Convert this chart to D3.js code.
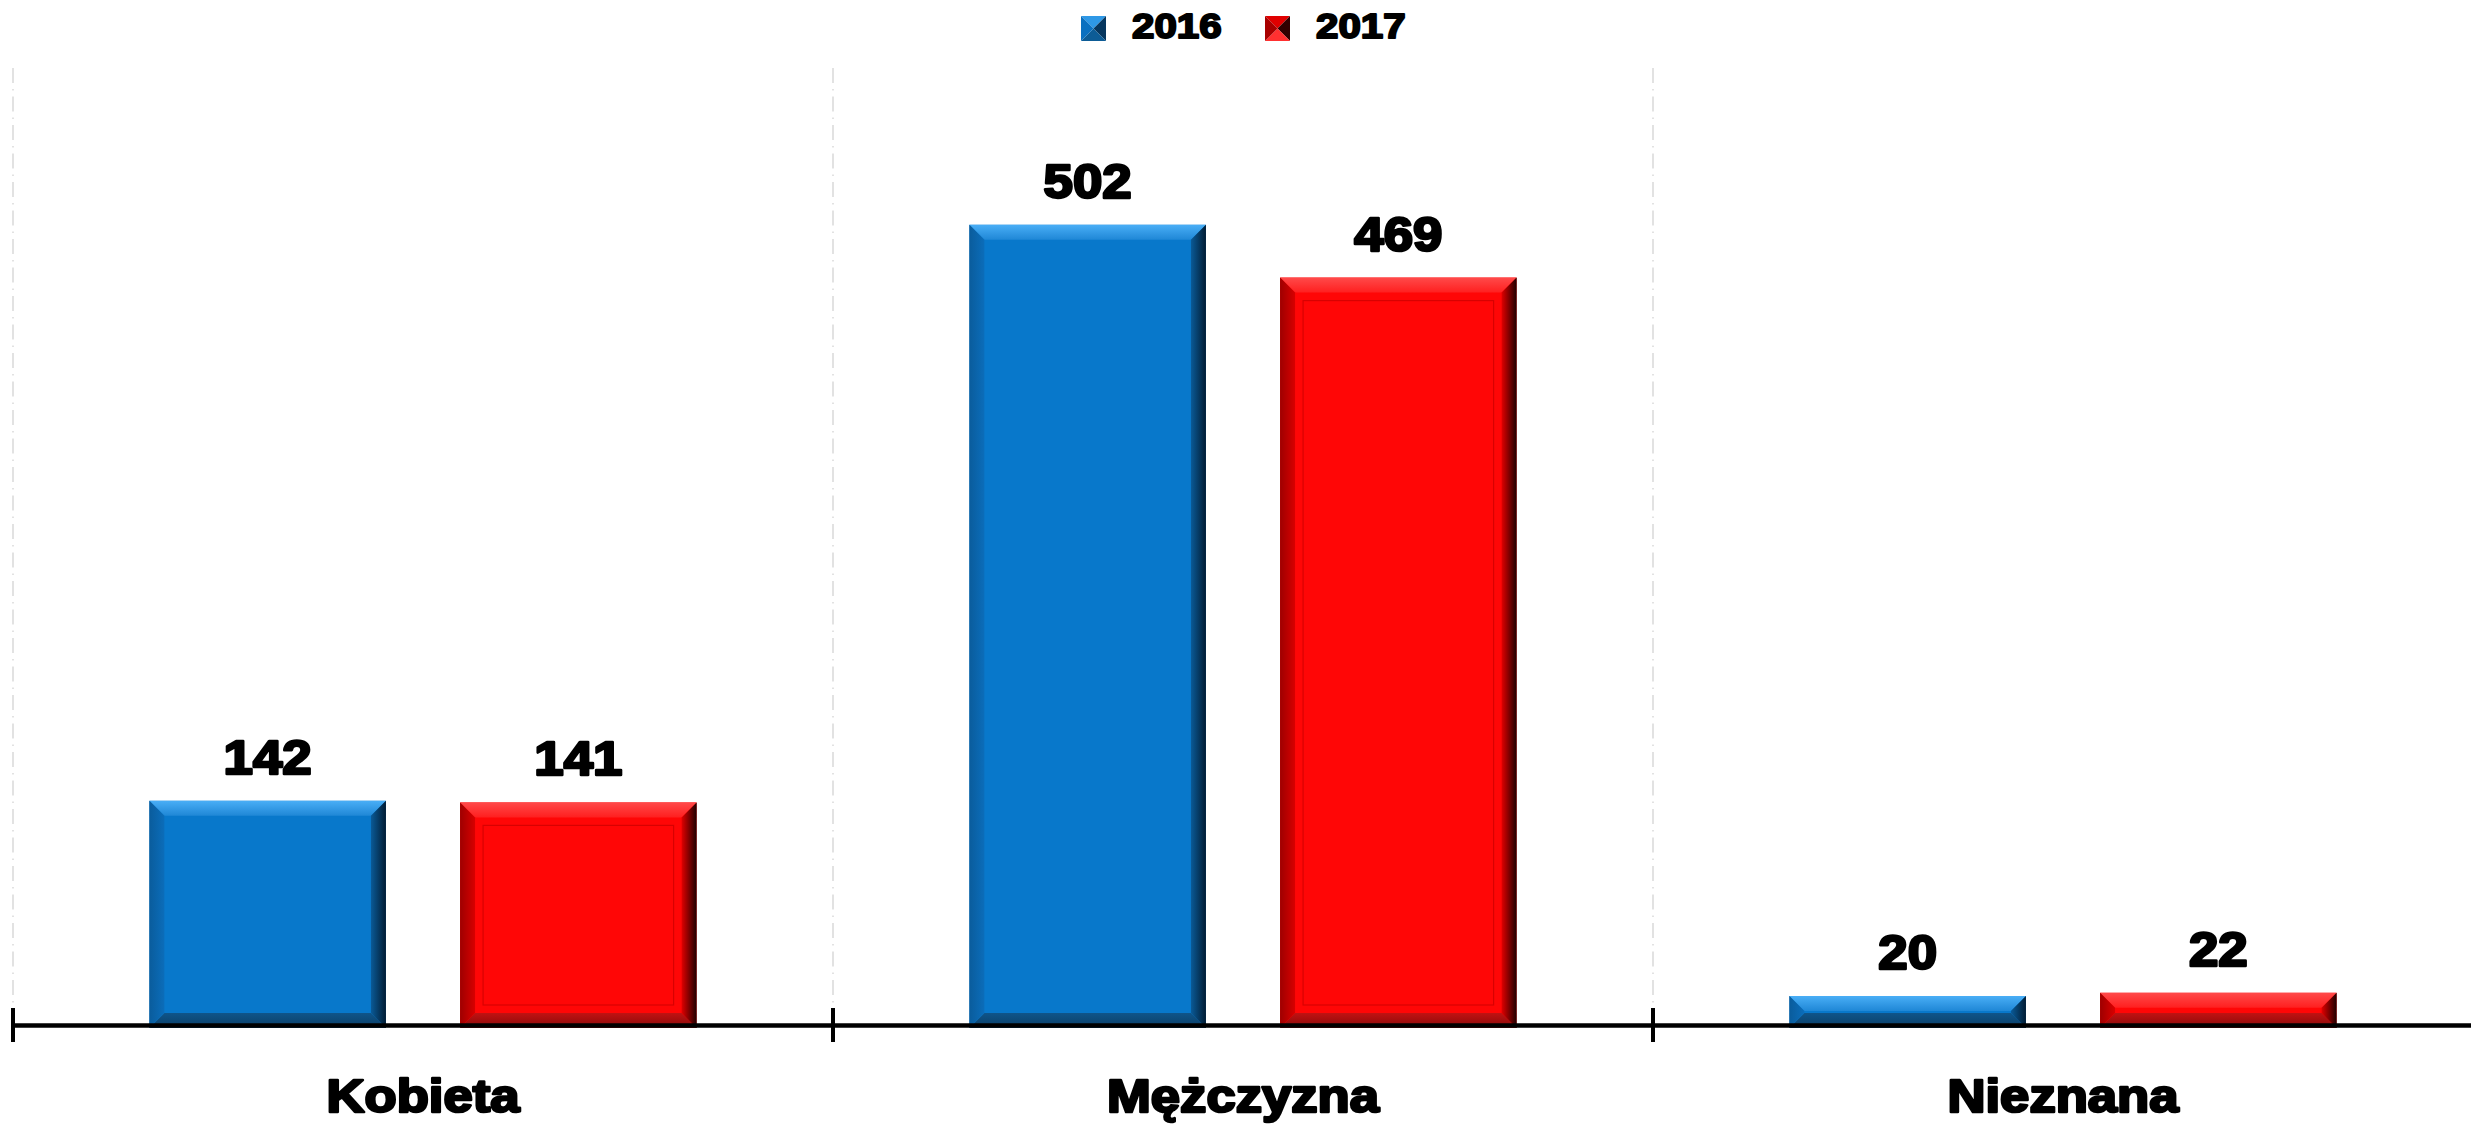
<!DOCTYPE html>
<html>
<head>
<meta charset="utf-8">
<script src="https://cdn.jsdelivr.net/npm/d3@7"></script>
<style>
  html, body { margin: 0; padding: 0; background: #fff; }
  svg { display: block; }
  .heavy { font-family: "Liberation Sans", Arial, sans-serif; font-weight: 700; fill: #000; stroke: #000; paint-order: stroke; stroke-linejoin: round; }
</style>
</head>
<body>
<svg id="chart" width="2471" height="1124"></svg>
<script>
// Categories and yearly counts
const categories = ["Kobieta", "Mężczyzna", "Nieznana"];
const seriesNames = ["2016", "2017"];
const values2016 = [142, 502, 20];
const values2017 = [141, 469, 22];
const yDomain = [0, 600];

const svg = d3.select("#chart");

const plot = { left: 13, right: 2473, top: 68, bottom: 1028, axisY: 1025 };

const x0 = d3.scaleBand().domain(categories).range([plot.left, plot.right]).paddingInner(0).paddingOuter(0);
const x1 = d3.scaleBand().domain(seriesNames).range([0, x0.bandwidth()]).paddingInner(0.2387).paddingOuter(0.439);
const y = d3.scaleLinear().domain(yDomain).range([plot.bottom, plot.top]);

const palette = {
  "2016": { face: "#0878CB", topOut: "#49AEF6", topIn: "#1F87D6", leftOut: "#0A5C9C", leftIn: "#0B6DBA",
            rightIn: "#0A5A97", rightOut: "#021C33", botIn: "#0F558A", botOut: "#0B3E66", inner: null,
            legTop: "#2E98E6", legLeft: "#0A70C0", legRight: "#06365E", legBot: "#0D5C96" },
  "2017": { face: "#FF0606", topOut: "#FF4A4A", topIn: "#FF1F1F", leftOut: "#9E0000", leftIn: "#D80000",
            rightIn: "#E00000", rightOut: "#1E0000", botIn: "#C01212", botOut: "#8A0A0A", inner: "#C80000",
            legTop: "#E00000", legLeft: "#A80000", legRight: "#300000", legBot: "#FF3030" }
};

// Gradients for the bevel faces
const defs = svg.append("defs");
function grad(id, x1g, y1g, x2g, y2g, c1, c2) {
  const g = defs.append("linearGradient").attr("id", id)
    .attr("x1", x1g).attr("y1", y1g).attr("x2", x2g).attr("y2", y2g);
  g.append("stop").attr("offset", "0%").attr("stop-color", c1);
  g.append("stop").attr("offset", "100%").attr("stop-color", c2);
}
seriesNames.forEach(s => {
  const p = palette[s];
  grad("top" + s, 0, 1, 0, 0, p.topIn, p.topOut);
  grad("bot" + s, 0, 0, 0, 1, p.botIn, p.botOut);
  grad("left" + s, 1, 0, 0, 0, p.leftIn, p.leftOut);
  grad("right" + s, 0, 0, 1, 0, p.rightIn, p.rightOut);
});

// Vertical separators between categories
svg.append("g").selectAll("line").data(categories).join("line")
  .attr("x1", d => x0(d)).attr("x2", d => x0(d))
  .attr("y1", plot.top).attr("y2", 1008)
  .attr("stroke", "#D9D9D9").attr("stroke-width", 1.5)
  .attr("stroke-dasharray", "15,6,1.5,6");

// Bevelled bar
function bevelBar(g, x, yTop, w, h, s, bevel) {
  const p = palette[s];
  const b = Math.min(bevel, h / 2, w / 2);
  const pts = a => a.map(q => q.join(",")).join(" ");
  g.append("rect").attr("x", x).attr("y", yTop).attr("width", w).attr("height", h).attr("fill", p.face);
  g.append("polygon").attr("points", pts([[x, yTop], [x + w, yTop], [x + w - b, yTop + b], [x + b, yTop + b]])).attr("fill", `url(#top${s})`);
  g.append("polygon").attr("points", pts([[x, yTop + h], [x + w, yTop + h], [x + w - b, yTop + h - b], [x + b, yTop + h - b]])).attr("fill", `url(#bot${s})`);
  g.append("polygon").attr("points", pts([[x, yTop], [x, yTop + h], [x + b, yTop + h - b], [x + b, yTop + b]])).attr("fill", `url(#left${s})`);
  g.append("polygon").attr("points", pts([[x + w, yTop], [x + w, yTop + h], [x + w - b, yTop + h - b], [x + w - b, yTop + b]])).attr("fill", `url(#right${s})`);
  if (p.inner && h > 3 * b) {
    g.append("rect").attr("x", x + b + 8).attr("y", yTop + b + 8)
      .attr("width", w - 2 * b - 16).attr("height", h - 2 * b - 16)
      .attr("fill", "none").attr("stroke", p.inner).attr("stroke-width", 1.2).attr("opacity", 0.7);
  }
}

const rows = categories.map((c, i) => ({ cat: c, vals: { "2016": values2016[i], "2017": values2017[i] } }));
const barsG = svg.append("g");
rows.forEach(r => {
  seriesNames.forEach(s => {
    const v = r.vals[s];
    const bx = x0(r.cat) + x1(s);
    const bw = x1.bandwidth();
    const yt = y(v);
    bevelBar(barsG, bx, yt, bw, y(0) - yt, s, 15);
    // value label
    barsG.append("text").attr("class", "heavy")
      .attr("text-anchor", "middle")
      .attr("transform", `translate(${bx + bw / 2},${yt - 27}) scale(1.1,1)`)
      .attr("font-size", 48).attr("stroke-width", 2.6)
      .text(v);
  });
});

// Category axis
const axis = d3.axisBottom(x0).tickSize(0).tickSizeOuter(0).tickPadding(54);
const axisG = svg.append("g").attr("transform", `translate(0,${plot.axisY})`).call(axis);
axisG.select(".domain").attr("stroke", "#000").attr("stroke-width", 4.5);
axisG.selectAll(".tick text")
  .attr("class", "heavy")
  .attr("font-size", 47).attr("stroke-width", 2.6)
  .attr("transform", "scale(1.12,1)");
// Boundary tick marks between categories
axisG.append("g").selectAll("line").data(categories).join("line")
  .attr("x1", d => x0(d)).attr("x2", d => x0(d))
  .attr("y1", -17).attr("y2", 17)
  .attr("stroke", "#000").attr("stroke-width", 4);

// Legend
const legendX = [1081, 1265];
const legend = svg.append("g");
seriesNames.forEach((s, i) => {
  const p = palette[s];
  const lx = legendX[i], ly = 16, sz = 25, c = sz / 2;
  const g = legend.append("g").attr("transform", `translate(${lx},${ly})`);
  g.append("polygon").attr("points", `0,0 ${sz},0 ${c},${c}`).attr("fill", p.legTop);
  g.append("polygon").attr("points", `${sz},0 ${sz},${sz} ${c},${c}`).attr("fill", p.legRight);
  g.append("polygon").attr("points", `0,${sz} ${sz},${sz} ${c},${c}`).attr("fill", p.legBot);
  g.append("polygon").attr("points", `0,0 0,${sz} ${c},${c}`).attr("fill", p.legLeft);
  legend.append("text").attr("class", "heavy")
    .attr("transform", `translate(${lx + 51},38) scale(1.15,1)`)
    .attr("font-size", 35).attr("stroke-width", 2)
    .text(s);
});
</script>
</body>
</html>
